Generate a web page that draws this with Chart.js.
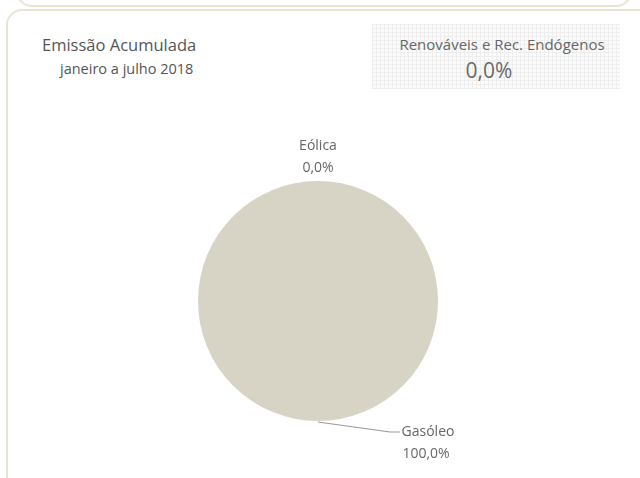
<!DOCTYPE html>
<html>
<head>
<meta charset="utf-8">
<script src="https://cdn.jsdelivr.net/npm/chart.js@4"></script>
<style>
  html, body { margin: 0; padding: 0; background: #fff; }
  body { width: 640px; height: 478px; position: relative; overflow: hidden; font-family: "Open Sans", "Noto Sans", sans-serif; color: #555; }
  .prev { position: absolute; left: 16px; top: -40px; width: 612px; height: 43px; border: 2px solid #e8e4d3; border-radius: 16px; }
  .panel { position: absolute; left: 6px; top: 9px; width: 660px; height: 520px; border: 2px solid #e8e4d3; border-radius: 16px; }
  .title { position: absolute; left: 42px; top: 33px; font-size: 16.5px; color: #555; }
  .sub { position: absolute; left: 60px; top: 59px; font-size: 14.5px; color: #555; }
  .box { position: absolute; left: 372px; top: 24px; width: 248px; height: 65px;
    background-color: #fbfbfb;
    background-image: repeating-linear-gradient(0deg, #eeeeee 0 1px, transparent 1px 4px),
                      repeating-linear-gradient(90deg, #eeeeee 0 1px, transparent 1px 4px); }
  .box .t { position: absolute; left: 6px; width: 248px; top: 10px; text-align: center; font-size: 15px; color: #666; }
  .box .v { position: absolute; left: 0; width: 234px; top: 32px; text-align: center; font-size: 21px; color: #6a6a6a; }
  canvas { position: absolute; left: 0; top: 0; }
</style>
</head>
<body>
<div class="prev"></div>
<div class="panel"></div>
<div class="title">Emissão Acumulada</div>
<div class="sub">janeiro a julho 2018</div>
<div class="box"><div class="t">Renováveis e Rec. Endógenos</div><div class="v">0,0%</div></div>
<canvas id="chart" width="640" height="478"></canvas>
<script>
const labels = ["Eólica", "Gasóleo"];
const values = [0, 100];
const colors = ["#8aa63c", "#d8d4c5"];

const fmt = (v) => v.toFixed(1).replace(".", ",") + "%";

// labels outside the slices, with a leader line when needed
const outLabels = {
  id: "outLabels",
  afterDatasetsDraw(chart) {
    const ctx = chart.ctx;
    const meta = chart.getDatasetMeta(0);
    ctx.save();
    ctx.font = '14px "Open Sans", "Noto Sans", sans-serif';
    ctx.fillStyle = "#666";
    ctx.textAlign = "center";
    ctx.textBaseline = "middle";
    meta.data.forEach((arc, i) => {
      const p = arc.getProps(["x", "y", "startAngle", "endAngle", "outerRadius"], true);
      const mid = (p.startAngle + p.endAngle) / 2;
      const sx = p.x + Math.cos(mid) * p.outerRadius;
      const sy = p.y + Math.sin(mid) * p.outerRadius;
      if (values[i] === 0) {
        ctx.fillText(labels[i], sx, sy - 35);
        ctx.fillText(fmt(values[i]), sx, sy - 13);
      } else {
        const ex = sx + 72, ey = sy + 11;
        ctx.strokeStyle = "#999";
        ctx.lineWidth = 1.2;
        ctx.beginPath();
        ctx.moveTo(sx, sy + 1);
        ctx.lineTo(ex, ey);
        ctx.lineTo(ex + 10, ey);
        ctx.stroke();
        ctx.fillText(labels[i], ex + 38, ey);
        ctx.fillText(fmt(values[i]), ex + 36, ey + 22);
      }
    });
    ctx.restore();
  }
};

new Chart(document.getElementById("chart"), {
  type: "pie",
  data: {
    labels: labels,
    datasets: [{ data: values, backgroundColor: colors, borderWidth: 0 }]
  },
  options: {
    responsive: false,
    animation: false,
    layout: { padding: { left: 198, right: 202, top: 181, bottom: 57 } },
    plugins: { legend: { display: false }, tooltip: { enabled: false } }
  },
  plugins: [outLabels]
});
</script>
</body>
</html>
